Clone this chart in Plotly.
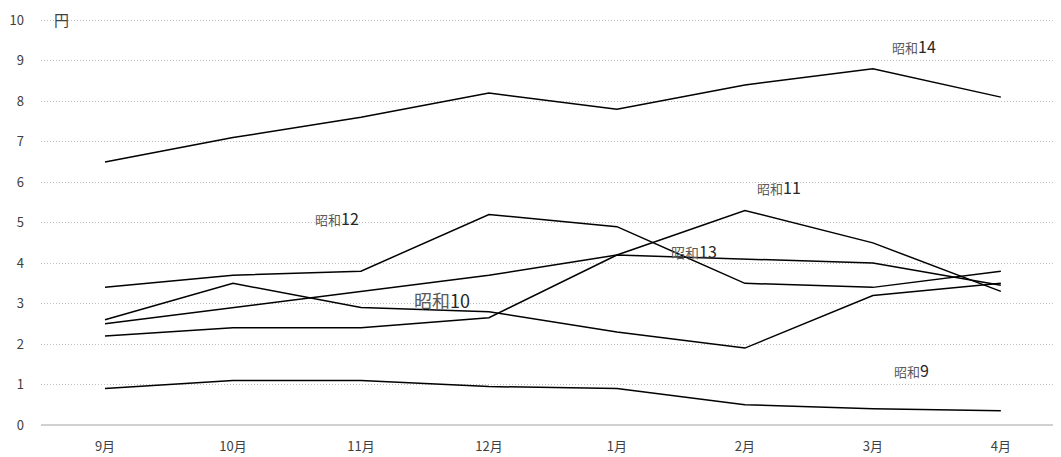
import plotly.graph_objects as go

months = ["9月", "10月", "11月", "12月", "1月", "2月", "3月", "4月"]

s9 = [0.9, 1.1, 1.1, 0.95, 0.9, 0.5, 0.4, 0.35]
s10 = [2.6, 3.5, 2.9, 2.8, 2.3, 1.9, 3.2, 3.5]
s11 = [2.2, 2.4, 2.4, 2.65, 4.2, 5.3, 4.5, 3.3]
s12 = [3.4, 3.7, 3.8, 5.2, 4.9, 3.5, 3.4, 3.8]
s13 = [2.5, 2.9, 3.3, 3.7, 4.2, 4.1, 4.0, 3.45]
s14 = [6.5, 7.1, 7.6, 8.2, 7.8, 8.4, 8.8, 8.1]

series = [("昭和9", s9), ("昭和10", s10), ("昭和11", s11),
          ("昭和12", s12), ("昭和13", s13), ("昭和14", s14)]

# label positions (category index, value, era font size, number font size)
label_pos = {
    "昭和14": (6.32, 9.36, 13, 16),
    "昭和12": (1.81, 5.12, 13, 16),
    "昭和11": (5.27, 5.89, 13, 16),
    "昭和13": (4.60, 4.31, 14, 16),
    "昭和10": (2.63, 3.08, 18, 18),
    "昭和9": (6.30, 1.35, 13, 16),
}

FONT = "Noto Sans CJK JP, Liberation Sans, sans-serif"

fig = go.Figure()
for name, vals in series:
    fig.add_trace(go.Scatter(x=list(range(len(months))), y=vals, mode="lines", name=name,
                             line=dict(color="black", width=1.5), showlegend=False))

for name, (xi, yv, s1, s2) in label_pos.items():
    era, num = name[:2], name[2:]
    fig.add_annotation(x=xi, y=yv, xref="x", yref="y", showarrow=False,
                       text=f"<span style='font-size:{s1}px;color:#595959'>{era}</span>"
                            f"<span style='font-size:{s2}px;color:#262626'>{num}</span>",
                       font=dict(family=FONT))

fig.add_annotation(xref="paper", yref="paper", x=0.0205, y=1.0,
                   xanchor="center", yanchor="middle", showarrow=False,
                   text="円", font=dict(family=FONT, size=15, color="#404040"))

# page body has an 8px margin; margins compensate so the plot sits where the reference has it
fig.update_layout(
    width=1061, height=457,
    margin=dict(l=33, r=8, t=11, b=40),
    plot_bgcolor="white", paper_bgcolor="white",
    font=dict(family=FONT, size=13, color="#404040"),
    xaxis=dict(tickmode="array", tickvals=list(range(len(months))), ticktext=months,
               range=[-0.5, 7.47], showgrid=False, zeroline=False, showline=False,
               ticks="", ticklabelstandoff=12, automargin=False,
               tickfont=dict(size=13, color="#404040")),
    yaxis=dict(range=[0, 10.03], tickvals=list(range(11)), showgrid=True, gridcolor="#bfbfbf",
               griddash="1px,2px", gridwidth=1, zeroline=True, zerolinecolor="#d0d0d0",
               zerolinewidth=2, showline=False, ticks="", ticklabelstandoff=16,
               automargin=False, tickfont=dict(size=13, color="#404040")),
)

fig.write_html("out.html")
